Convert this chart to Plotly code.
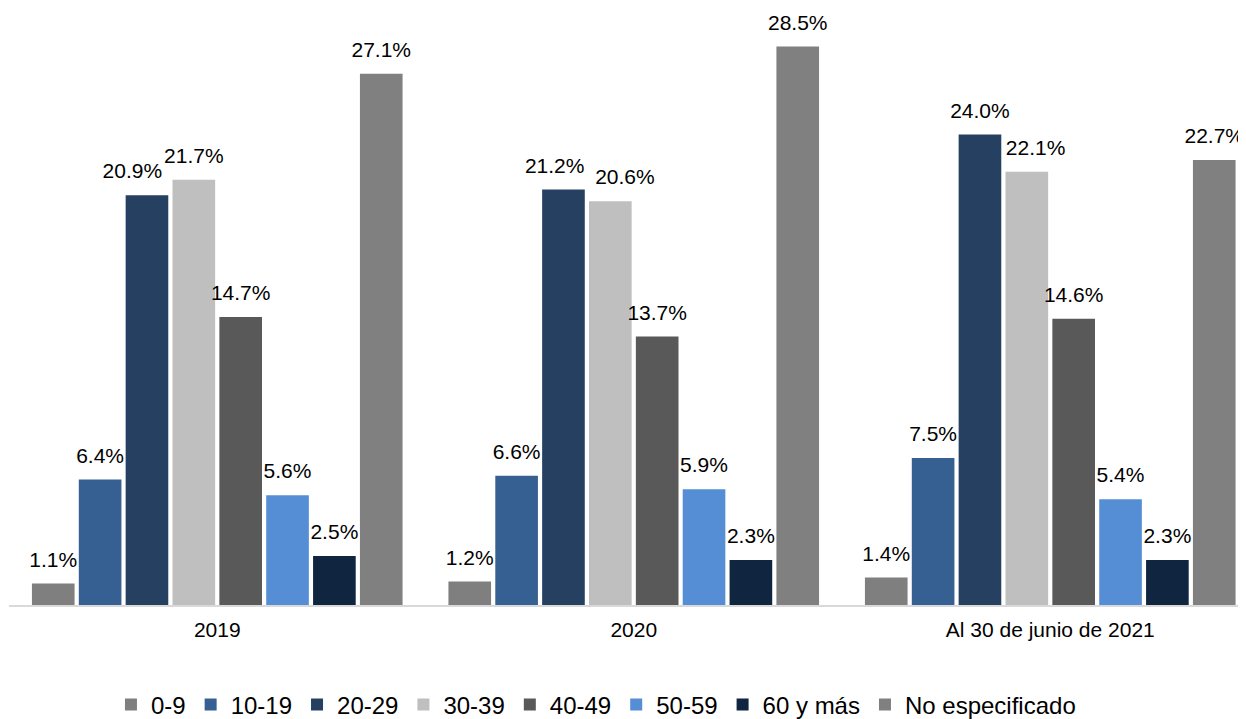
import plotly.graph_objects as go

categories = ["2019", "2020", "Al 30 de junio de 2021"]
series_names = ["0-9", "10-19", "20-29", "30-39", "40-49", "50-59", "60 y más", "No especificado"]
v_0_9 = [1.1, 1.2, 1.4]
v_10_19 = [6.4, 6.6, 7.5]
v_20_29 = [20.9, 21.2, 24.0]
v_30_39 = [21.7, 20.6, 22.1]
v_40_49 = [14.7, 13.7, 14.6]
v_50_59 = [5.6, 5.9, 5.4]
v_60_mas = [2.5, 2.3, 2.3]
v_no_esp = [27.1, 28.5, 22.7]
series_values = [v_0_9, v_10_19, v_20_29, v_30_39, v_40_49, v_50_59, v_60_mas, v_no_esp]
colors = ["#7F7F7F", "#376092", "#254061", "#BFBFBF", "#595959", "#558ED5", "#10253F", "#808080"]

# label nudges (style only): (series index, category index) -> number of padding spaces
# negative = pad on the right (moves label left), positive = pad on the left
label_nudge = {(2, 0): -5, (2, 1): -3, (3, 1): 5, (3, 2): 3}

FONT = "Liberation Sans, Arial, sans-serif"
GAP = 0.1
NBSP = "\u00a0"


def label(v, si, ci):
    n = label_nudge.get((si, ci), 0)
    t = f"{v:.1f}%"
    if n < 0:
        return t + NBSP * (-n)
    return NBSP * n + t


fig = go.Figure()
for i, (name, vals, col) in enumerate(zip(series_names, series_values, colors)):
    fig.add_trace(go.Bar(
        x=categories, y=vals, name=name, marker=dict(color=col, line=dict(width=0)),
        offsetgroup=str(i), alignmentgroup="a",
    ))
for i, (name, vals) in enumerate(zip(series_names, series_values)):
    fig.add_trace(go.Scatter(
        x=categories, y=vals, mode="markers+text",
        text=[label(v, i, j) for j, v in enumerate(vals)], textposition="top center",
        textfont=dict(family=FONT, size=21, color="#000000"),
        marker=dict(size=17, opacity=0),
        offsetgroup=str(i), alignmentgroup="a",
        showlegend=False, hoverinfo="skip", cliponaxis=False,
    ))

fig.update_layout(
    barmode="group", bargap=GAP, bargroupgap=0.09,
    scattermode="group", scattergap=GAP,
    width=1238, height=711,
    margin=dict(l=1, r=0, t=9, b=114, autoexpand=False),
    paper_bgcolor="white", plot_bgcolor="white",
    font=dict(family=FONT, size=21, color="#000000"),
    showlegend=True,
    legend=dict(orientation="h", x=0.4745, xanchor="center", y=-0.17, yanchor="middle",
                font=dict(family=FONT, size=24, color="#000000"),
                traceorder="normal"),
    xaxis=dict(range=[-0.5, 2.47], showline=True, linecolor="#D9D9D9", linewidth=2,
               ticks="", showgrid=False, tickfont=dict(size=21, color="#000000"),
               ticklabelstandoff=5),
    yaxis=dict(range=[0, 30], visible=False, showgrid=False, zeroline=False),
)

fig.write_html("out.html")
